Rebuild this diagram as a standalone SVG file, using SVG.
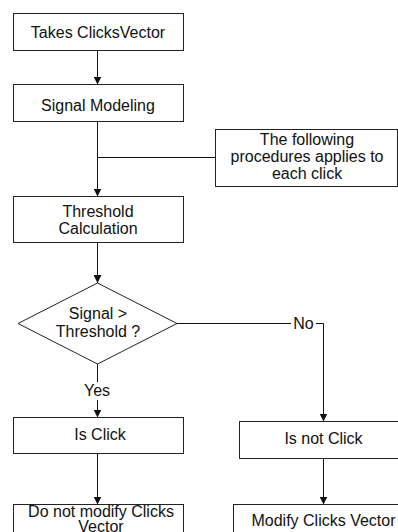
<svg xmlns="http://www.w3.org/2000/svg" width="398" height="532" viewBox="0 0 398 532">
  <style>
    .box { fill: #ffffff; stroke: #222222; stroke-width: 1; }
    .line { fill: none; stroke: #111111; stroke-width: 1; }
    .label { font-family: "Liberation Sans", Arial, sans-serif; font-size: 16px; fill: #111111; text-anchor: middle; }
  </style>
  <defs>
    <marker id="arrow" viewBox="0 0 10 10" refX="10" refY="5" markerWidth="8" markerHeight="8" markerUnits="userSpaceOnUse" orient="auto">
      <path d="M0,0 L10,5 L0,10 Z" fill="#111111"/>
    </marker>
  </defs>
  <rect width="398" height="532" fill="#ffffff"/>

  <g id="connectors">
    <line class="line" x1="97.5" y1="50.5" x2="97.5" y2="84.5" marker-end="url(#arrow)"/>
    <line class="line" x1="97.5" y1="121.5" x2="97.5" y2="196.5" marker-end="url(#arrow)"/>
    <line class="line" x1="97.5" y1="157.5" x2="215.5" y2="157.5"/>
    <line class="line" x1="97.5" y1="242.5" x2="97.5" y2="283" marker-end="url(#arrow)"/>
    <!-- No branch -->
    <line class="line" x1="177" y1="323.5" x2="291" y2="323.5"/>
    <polyline class="line" points="316,323.5 323.5,323.5 323.5,421.5" marker-end="url(#arrow)"/>
    <text class="label" x="303.5" y="329">No</text>
    <!-- Yes branch -->
    <line class="line" x1="97.5" y1="363" x2="97.5" y2="382"/>
    <text class="label" x="97" y="396">Yes</text>
    <line class="line" x1="97.5" y1="400" x2="97.5" y2="417.5" marker-end="url(#arrow)"/>
    <line class="line" x1="97.5" y1="453.5" x2="97.5" y2="504.5" marker-end="url(#arrow)"/>
    <line class="line" x1="323.5" y1="458.5" x2="323.5" y2="504.5" marker-end="url(#arrow)"/>
  </g>

  <g id="takes-clicks-vector">
    <rect class="box" x="13.5" y="13.5" width="170" height="37"/>
    <text class="label" x="98" y="37.5">Takes ClicksVector</text>
  </g>

  <g id="signal-modeling">
    <rect class="box" x="13.5" y="84.5" width="170" height="37"/>
    <text class="label" x="98" y="111">Signal Modeling</text>
  </g>

  <g id="per-click-note">
    <rect class="box" x="215.5" y="129.5" width="182" height="57"/>
    <text class="label" x="307" y="144.5">The following</text>
    <text class="label" x="307" y="161.5">procedures applies to</text>
    <text class="label" x="307" y="178.5">each click</text>
  </g>

  <g id="threshold-calculation">
    <rect class="box" x="13.5" y="196.5" width="170" height="46"/>
    <text class="label" x="98" y="216.5">Threshold</text>
    <text class="label" x="98" y="233.5">Calculation</text>
  </g>

  <g id="signal-decision">
    <path class="box" d="M97.5,283 L177,323.5 L97.5,364 L18,323.5 Z"/>
    <text class="label" x="98" y="319">Signal &gt;</text>
    <text class="label" x="98" y="336.5">Threshold ?</text>
  </g>

  <g id="is-click">
    <rect class="box" x="13.5" y="417.5" width="170" height="36"/>
    <text class="label" x="100" y="439.5">Is Click</text>
  </g>

  <g id="is-not-click">
    <rect class="box" x="239.5" y="421.5" width="168" height="37"/>
    <text class="label" x="323.5" y="444">Is not Click</text>
  </g>

  <g id="keep-clicks-vector">
    <rect class="box" x="13.5" y="504.5" width="170" height="40"/>
    <text class="label" x="101" y="517">Do not modify Clicks</text>
    <text class="label" x="101" y="532">Vector</text>
  </g>

  <g id="modify-clicks-vector">
    <rect class="box" x="233.5" y="504.5" width="180" height="40"/>
    <text class="label" x="323.5" y="526">Modify Clicks Vector</text>
  </g>
</svg>
